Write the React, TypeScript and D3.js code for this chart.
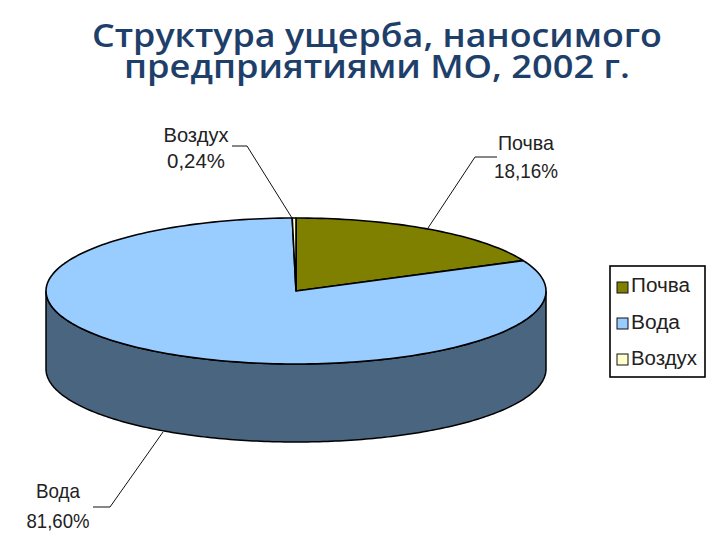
import React from "react";
import * as d3 from "d3";

const categories = ["Почва", "Вода", "Воздух"];
const shares = [18.16, 81.6, 0.24];
const shareLabels = ["18,16%", "81,60%", "0,24%"];
const colors = ["#808000", "#99ccff", "#ffffcc"];
const titleLines = ["Структура ущерба, наносимого", "предприятиями МО, 2002 г."];

const cx = 296, cy = 291, rx = 250, ry = 73, depth = 78;
const sx = d3.scaleLinear().domain([-1, 1]).range([cx - rx, cx + rx]);
const sy = d3.scaleLinear().domain([-1, 1]).range([cy - ry, cy + ry]);
const proj = (a: number, r = 1): [number, number] => [sx(r * Math.sin(a)), sy(-r * Math.cos(a))];

const slices = d3.pie<number>().sort(null)(shares);

function sector(s: d3.PieArcDatum<number>) {
  const n = Math.max(2, Math.ceil((s.endAngle - s.startAngle) * 40));
  const pts = d3.range(n + 1).map((i) => proj(s.startAngle + ((s.endAngle - s.startAngle) * i) / n));
  return d3.line()([[cx, cy], ...pts]) + "Z";
}

const wallAngles = d3.range(0, 201).map((i) => Math.PI / 2 + (Math.PI * i) / 200);
const wallTop = wallAngles.map((a) => proj(a));
const wallBottom = wallAngles.map((a) => {
  const [x, y] = proj(a);
  return [x, y + depth] as [number, number];
}).reverse();
const wallPath = d3.line()([...wallTop, ...wallBottom]) + "Z";

const leaders = [
  { name: 0, lx: 526, y1: 150, y2: 178, w1: 56, w2: 64, pts: [[497, 157], [475, 157], [428, 228]] },
  { name: 2, lx: 196, y1: 142, y2: 168, w1: 65, w2: 58, pts: [[232, 146], [247, 146], [292, 218]] },
  { name: 1, lx: 58, y1: 498, y2: 528, w1: 44, w2: 63, pts: [[93, 507], [110, 507], [163, 432]] },
];
const legendWidths = [59, 49, 66];

const labelFont = "'Liberation Sans', Arial, sans-serif";

export default function App() {
  return (
    <svg width={720} height={540} viewBox="0 0 720 540"
      style={{ position: "fixed", left: 0, top: 0, background: "#fff" }}>
      {titleLines.map((t, i) => (
        <text key={t} x={377} y={47 + i * 31} textAnchor="middle"
          fontFamily="'Open Sans', sans-serif" fontSize={33} fontWeight={600} fill="#1f3f6b"
          textLength={i === 0 ? 570 : 506} lengthAdjust="spacingAndGlyphs">{t}</text>
      ))}
      <path d={wallPath} fill="#4a6580" stroke="#000" strokeWidth={1.5} />
      {slices.map((s, i) => (
        <path key={categories[i]} d={sector(s)} fill={colors[i]} stroke="#000" strokeWidth={1.6} strokeLinejoin="round" />
      ))}
      {leaders.map((l) => (
        <g key={l.name} fontFamily={labelFont} fontSize={21} fill="#222">
          <path d={d3.line()(l.pts as [number, number][]) ?? ""} fill="none" stroke="#111" strokeWidth={1} />
          <text x={l.lx} y={l.y1} textAnchor="middle" textLength={l.w1} lengthAdjust="spacingAndGlyphs">{categories[l.name]}</text>
          <text x={l.lx} y={l.y2} textAnchor="middle" textLength={l.w2} lengthAdjust="spacingAndGlyphs">{shareLabels[l.name]}</text>
        </g>
      ))}
      <rect x={610} y={266} width={95} height={111} fill="#fff" stroke="#000" strokeWidth={1.6} />
      {categories.map((c, i) => (
        <g key={c}>
          <rect x={617} y={282 + i * 36} width={11} height={11} fill={colors[i]} stroke="#111" strokeWidth={1} />
          <text x={631} y={292 + i * 36.5} fontFamily={labelFont} fontSize={20} fill="#222"
            textLength={legendWidths[i]} lengthAdjust="spacingAndGlyphs">{c}</text>
        </g>
      ))}
    </svg>
  );
}
